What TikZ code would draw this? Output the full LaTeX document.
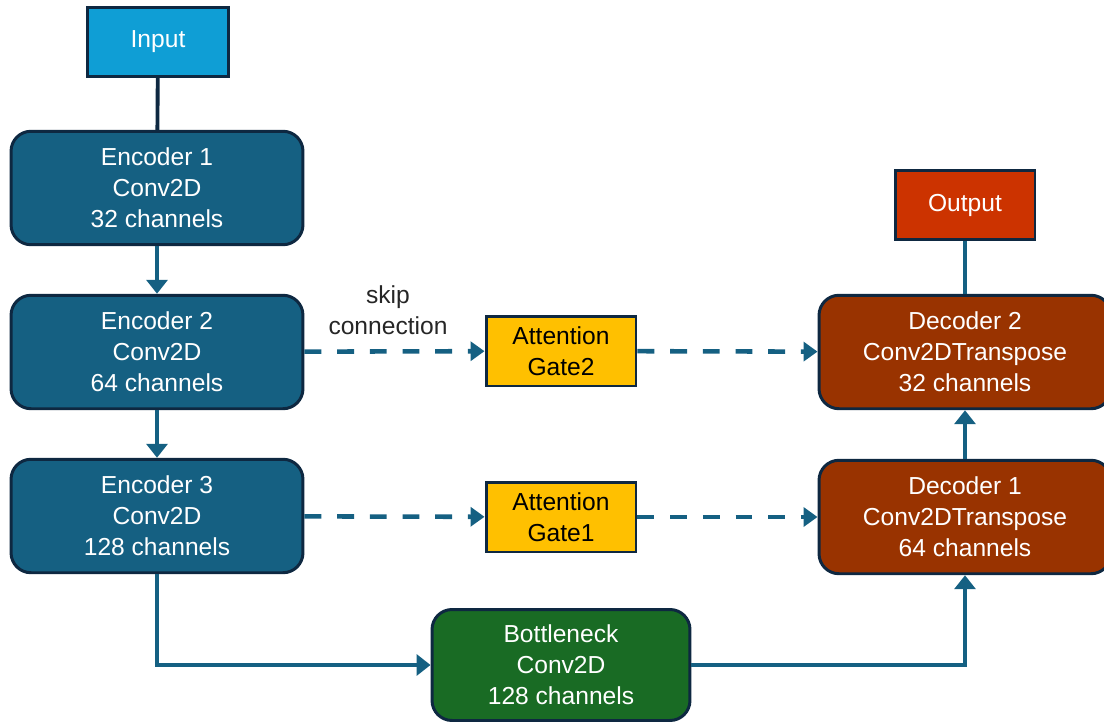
\documentclass[tikz,border=0pt]{standalone}
\usepackage{fontspec}
\setmainfont{Liberation Sans}
\usepackage{xcolor}
\usetikzlibrary{arrows.meta}
\usetikzlibrary{shapes}

\definecolor{encblue}{HTML}{156082}
\definecolor{inblue}{HTML}{0F9ED5}
\definecolor{navy}{HTML}{0E2841}
\definecolor{bottgreen}{HTML}{196B24}
\definecolor{decbrown}{HTML}{993300}
\definecolor{outred}{HTML}{CC3300}
\definecolor{gateyellow}{HTML}{FFC000}

\begin{document}
\begin{tikzpicture}[x=0.02cm, y=-0.02cm,
    font=\fontsize{14}{17.6}\selectfont,
    block/.style={draw=navy, line width=1.7pt, rounded corners=0.4cm, text=white, align=center,
                  minimum width=5.84cm, minimum height=2.27cm, inner sep=0pt},
    endbox/.style={draw=navy, line width=1.7pt, text=white, minimum height=1.38cm, inner sep=0pt},
    gatebox/.style={draw=navy, line width=1.7pt, fill=gateyellow, align=center,
                  minimum width=3cm, minimum height=1.4cm, inner sep=0pt},
    flow/.style={encblue, line width=2.2pt},
    tip/.style={-{Triangle[length=0.28cm, width=0.42cm]}},
    skip/.style={encblue, line width=2.6pt, dash pattern=on 9.6pt off 9pt,
                 -{Triangle[length=0.28cm, width=0.38cm]}}]
                \useasboundingbox (0,0) rectangle (1104,723);
                
                % input and output
                \node[endbox, fill=inblue, minimum width=2.82cm] (in) at (158,42) {Input};
                \node[endbox, fill=outred, minimum width=2.8cm] (out) at (965,205) {Output};
                
                % encoders
                \node[block, fill=encblue] (enc1) at (157,188) {Encoder 1\\Conv2D\\32 channels};
                \node[block, fill=encblue] (enc2) at (157,352) {Encoder 2\\Conv2D\\64 channels};
                \node[block, fill=encblue] (enc3) at (157,516) {Encoder 3\\Conv2D\\128 channels};
                
                % attention gates
                \node[gatebox] (gate2) at (561,351) {Attention\\Gate2};
                \node[gatebox] (gate1) at (561,517) {Attention\\Gate1};
                \node[text=black!85, align=center] (skiplbl) at (388,310) {skip\\connection};
                
                % bottleneck
                \node[block, fill=bottgreen, minimum width=5.16cm, minimum height=2.22cm] (bott) at (561,665) {Bottleneck\\Conv2D\\128 channels};
                
                % decoders
                \node[block, fill=decbrown] (dec2) at (965,352) {Decoder 2\\Conv2DTranspose\\32 channels};
                \node[block, fill=decbrown] (dec1) at (965,517) {Decoder 1\\Conv2DTranspose\\64 channels};
                
                % main path
                \draw[flow, navy] (in) -- (enc1);
                \draw[flow, tip] (enc1) -- (enc2);
                \draw[flow, tip] (enc2) -- (enc3);
                \draw[flow, tip] (enc3.south) |- (bott.west);
                \draw[flow, tip] (bott.east) -| (dec1.south);
                \draw[flow, tip] (dec1) -- (dec2);
                \draw[flow] (dec2) -- (out);
                
                % skip connections
                \draw[skip] (enc2) -- (gate2);
                \draw[skip] (gate2) -- (dec2);
                \draw[skip] (enc3) -- (gate1);
                \draw[skip] (gate1) -- (dec1);
                
            \end{tikzpicture}
\end{document}
